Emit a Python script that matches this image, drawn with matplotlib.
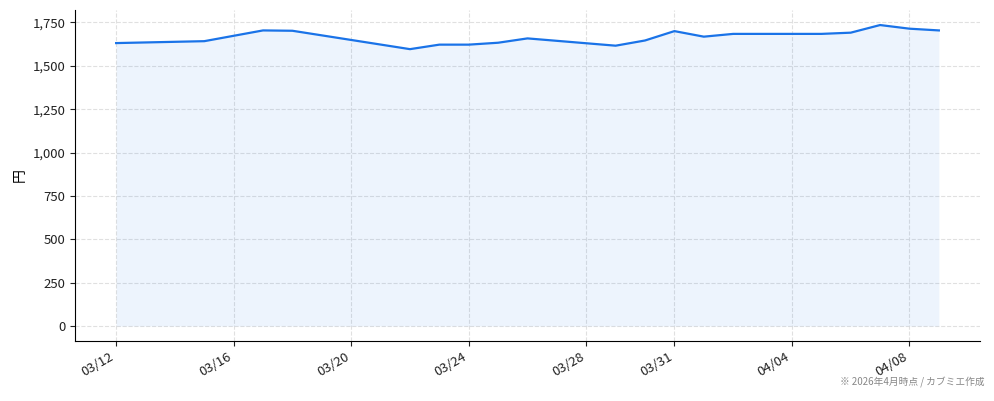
import matplotlib
matplotlib.use("Agg")
import matplotlib.pyplot as plt
import matplotlib.dates as mdates
from matplotlib.ticker import FuncFormatter
from datetime import datetime

plt.rcParams['font.family'] = ['Noto Sans CJK JP', 'DejaVu Sans']

dates = ["2026-03-12", "2026-03-15", "2026-03-17", "2026-03-18", "2026-03-22",
         "2026-03-23", "2026-03-24", "2026-03-25", "2026-03-26", "2026-03-29",
         "2026-03-30", "2026-03-31", "2026-04-01", "2026-04-02", "2026-04-05",
         "2026-04-06", "2026-04-07", "2026-04-08", "2026-04-09"]
prices = [1631, 1642, 1704, 1702, 1596, 1622, 1622, 1633, 1658, 1616,
          1646, 1700, 1668, 1684, 1684, 1691, 1735, 1714, 1704]
tick_dates = ["2026-03-12", "2026-03-16", "2026-03-20", "2026-03-24",
              "2026-03-28", "2026-03-31", "2026-04-04", "2026-04-08"]

x = [datetime.strptime(d, "%Y-%m-%d") for d in dates]
ticks = [datetime.strptime(d, "%Y-%m-%d") for d in tick_dates]

fig = plt.figure(figsize=(9.94, 4.01), dpi=100)
ax = fig.add_axes([75/994, 1-341/401, (980-75)/994, (341-10)/401])

ax.fill_between(x, prices, 0, color="#1a73e8", alpha=0.08, linewidth=0)
ax.plot(x, prices, color="#1a73e8", linewidth=1.6)

ax.set_xticks(ticks)
ax.xaxis.set_major_formatter(mdates.DateFormatter("%m/%d"))
ax.yaxis.set_major_formatter(FuncFormatter(lambda v, p: f"{int(v):,}"))
ax.set_yticks(range(0, 1751, 250))
ax.set_ylabel("円", fontsize=10)

ax.grid(True, linestyle="--", color="#dddddd", linewidth=0.8, alpha=0.9)
ax.set_axisbelow(True)
ax.spines["top"].set_visible(False)
ax.spines["right"].set_visible(False)
ax.tick_params(labelsize=9.5, colors="#222222")
for lbl in ax.get_xticklabels():
    lbl.set_rotation(30)
    lbl.set_ha("right")

fig.text(0.991, 0.035, "※ 2026年4月時点 / カブミエ作成", ha="right", va="bottom",
         fontsize=7, color="#888888")

fig.savefig("out.png", dpi=100)
